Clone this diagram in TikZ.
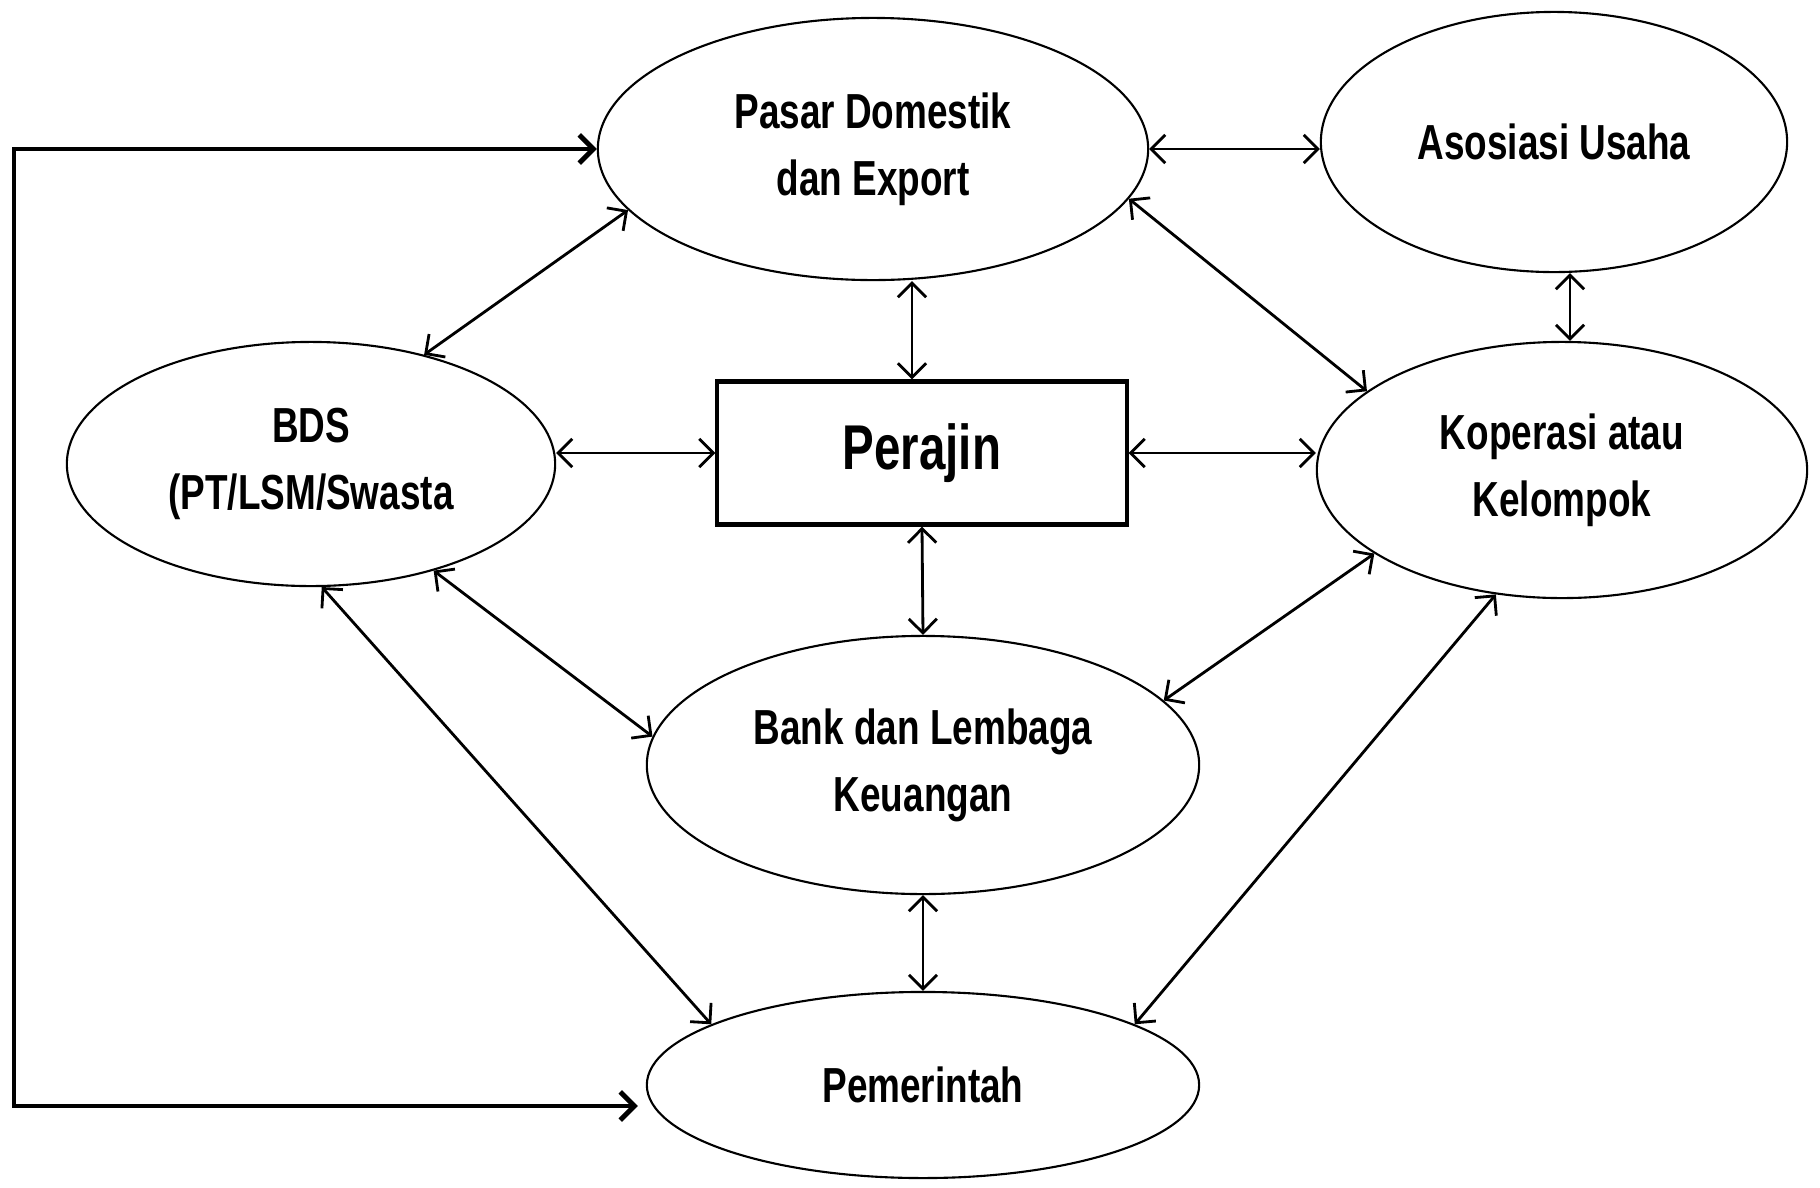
\documentclass[tikz,border=0pt]{standalone}
\usepackage{fontspec}
\setmainfont{Liberation Sans}[FakeStretch=0.75]
\usepackage{tikz}
\usetikzlibrary{shapes.geometric,arrows.meta,calc}

\begin{document}
\begin{tikzpicture}[x=0.01cm,y=-0.01cm,
  actor/.style={draw,ellipse,line width=0.6pt,inner sep=0pt,align=center,
    font=\bfseries\fontsize{14}{19}\selectfont},
  link/.style={{Straight Barb[length=4pt,width=8pt]}-{Straight Barb[length=4pt,width=8pt]},line width=0.8pt},
  loopline/.style={{Straight Barb[length=4pt,width=8pt]}-{Straight Barb[length=4pt,width=8pt]},line width=1.4pt}]
\useasboundingbox (0,0) rectangle (1820,1187);

% the actors
\node[actor,minimum width=5.5cm,minimum height=2.62cm] (pasar) at (873,149) {Pasar Domestik\\dan Export};
\node[actor,minimum width=4.66cm,minimum height=2.6cm] (asosiasi) at (1554,142) {Asosiasi Usaha};
\node[actor,minimum width=4.88cm,minimum height=2.44cm] (bds) at (311,464) {BDS\\(PT/LSM/Swasta};
\node[actor,minimum width=4.9cm,minimum height=2.56cm] (koperasi) at (1562,470) {Koperasi atau\\Kelompok};
\node[actor,minimum width=5.52cm,minimum height=2.58cm] (bank) at (923,765) {Bank dan Lembaga\\Keuangan};
\node[actor,minimum width=5.52cm,minimum height=1.86cm] (pemerintah) at (923,1085) {Pemerintah};

\node[draw,line width=1.2pt,minimum width=4.09cm,minimum height=1.43cm,
  font=\bfseries\fontsize{18}{22}\selectfont] (perajin) at (922,453) {Perajin};

% links
\coordinate (pertop) at ($(perajin.north)+(-10,0)$);
\coordinate (koptop) at ($(koperasi.north)+(8,0)$);
\draw[link] (pasar.east) -- (pasar.east -| asosiasi.west);
\draw[link] (pasar.194) -- (bds.44);
\draw[link] (pasar.south -| pertop) -- (pertop);
\draw[link] (pasar.-11) -- (koperasi.158);
\draw[link] (asosiasi.south -| koptop) -- (koptop);
\draw[link] (perajin.west -| bds.east) -- (perajin.west);
\draw[link] (perajin.east) -- (perajin.east -| koperasi.west);
\draw[link] (perajin.south) -- (bank.north);
\draw[link] (bds.-41) -- (bank.174);
\draw[link] (koperasi.204) -- (bank.15);
\draw[link] (bds.-85) -- (pemerintah.164);
\draw[link] (koperasi.242) -- (pemerintah.16);
\draw[link] (bank.south) -- (pemerintah.north);

% loop round the left side
\coordinate (loopend) at ($(pemerintah.west)+(-8,21)$);
\draw[loopline] (pasar.west) -- (14,149) -- (14,1106) -- (loopend);

\end{tikzpicture}
\end{document}
